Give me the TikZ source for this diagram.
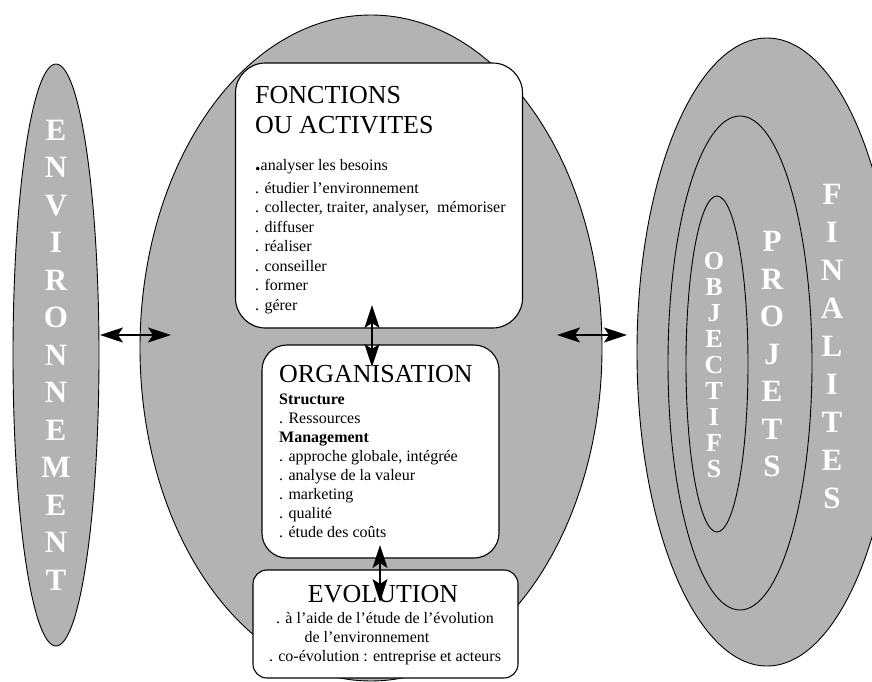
\documentclass[tikz,border=0pt]{standalone}
\usepackage{fontspec}
\setmainfont{Liberation Serif}
\usepackage{tikz}
\usetikzlibrary{shapes.geometric,arrows.meta,positioning}
\definecolor{ovalgray}{RGB}{179,179,179}

\begin{document}
\begin{tikzpicture}[x=1pt,y=-1pt,
    oval/.style={ellipse,draw,fill=ovalgray,line width=0.9pt,inner sep=0pt},
    box/.style={rectangle,draw,fill=white,line width=1.1pt,inner sep=0pt},
    title/.style={font=\fontsize{26}{30}\selectfont,inner sep=0pt},
    items/.style={font=\fontsize{16}{19.5}\selectfont,align=left,inner sep=0pt},
    vword/.style={text=white,font=\fontsize{31}{37.5}\selectfont\bfseries,align=center,inner sep=0pt},
    link/.style={<->,>={Stealth[length=23pt,width=15pt,inset=5pt]},line width=1.8pt}]
    \useasboundingbox (0,0) rectangle (872,682);
    \clip (0,0) rectangle (872,682);
    \fill[white] (0,0) rectangle (872,682);

    % Ovals
    \node[oval,minimum width=86pt,minimum height=582pt] (env) at (56,355) {};
    \node[oval,minimum width=462pt,minimum height=666pt] (entreprise) at (371,348) {};
    \node[oval,minimum width=260pt,minimum height=628pt] (finalites) at (767,352) {};
    \node[oval,minimum width=144pt,minimum height=494pt] (projets) at (740,363) {};
    \node[oval,minimum width=62pt,minimum height=336pt] (objectifs) at (717,364) {};

    % Vertical words
    \node[vword] (envWord) at (56,355) {E\\N\\V\\I\\R\\O\\N\\N\\E\\M\\E\\N\\T};
    \node[vword,font=\fontsize{31}{38}\selectfont\bfseries] (finWord) at (832,346) {F\\I\\N\\A\\L\\I\\T\\E\\S};
    \node[vword] (projWord) at (772,354) {P\\R\\O\\J\\E\\T\\S};
    \node[vword,font=\fontsize{26}{26}\selectfont\bfseries] (objWord) at (714,365) {O\\B\\J\\E\\C\\T\\I\\F\\S};

    % Boxes
    \node[box,rounded corners=30pt,minimum width=287pt,minimum height=265pt] (fonc) at (379,195.5) {};
    \node[box,rounded corners=25pt,minimum width=237pt,minimum height=213pt] (org) at (380.5,451.5) {};
    \node[box,rounded corners=14pt,minimum width=265pt,minimum height=108pt] (evol) at (385.5,624) {};

    % Box texts
    \node[title,align=left,anchor=north west] (foncTitle) at (255,86) {FONCTIONS\\OU ACTIVITES};
    \node[items,anchor=north west] (foncList) at (255,159)
        {{\fontsize{22}{22}\selectfont\textbf{.}}analyser les besoins\\[3.5pt]
         . étudier l’environnement\\
         . collecter, traiter, analyser,\ \ mémoriser\\
         . diffuser\\
         . réaliser\\
         . conseiller\\
         . former\\
         . gérer};
    \node[title,anchor=north west] (orgTitle) at (279,365) {ORGANISATION};
    \node[items,font=\fontsize{16}{19}\selectfont,anchor=north west] (orgList) at (279,394)
        {\textbf{Structure}\\
         . Ressources\\
         \textbf{Management}\\
         . approche globale, intégrée\\
         . analyse de la valeur\\
         . marketing\\
         . qualité\\
         . étude des coûts};
    \node[title,anchor=north] (evolTitle) at (383,585) {EVOLUTION};
    \node[items,font=\fontsize{16}{19}\selectfont,align=center,anchor=north] (evolList) at (385,612)
        {. à l’aide de l’étude de l’évolution\\
         de l’environnement\hbox to 36pt{}\\
         . co-évolution : entreprise et acteurs};

    % Arrow ends
    \coordinate (envR) at (100,335);
    \coordinate (entL) at (171,335);
    \coordinate (entR) at (557,335);
    \coordinate (finL) at (627,335);
    \coordinate (foncB) at (372,305);
    \coordinate (orgT) at (372,367);
    \coordinate (orgB) at (380,545);
    \coordinate (evolT) at (380,602);

    % Arrows
    \draw[link] (envR) -- (entL);
    \draw[link] (entR) -- (finL);
    \draw[link] (foncB) -- (orgT);
    \draw[link] (orgB) -- (evolT);
\end{tikzpicture}
\end{document}
